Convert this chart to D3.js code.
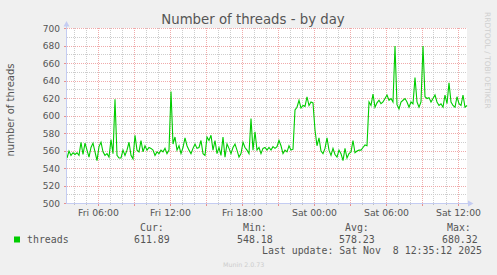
<!DOCTYPE html>
<html>
<head>
<meta charset="utf-8">
<title>Number of threads - by day</title>
<script src="https://cdn.jsdelivr.net/npm/d3@7"></script>
<style>
  body { margin: 0; background: #f0f0f0; }
  svg { display: block; }
  text { font-family: "DejaVu Sans", sans-serif; }
  .mono { font-family: "DejaVu Sans Mono", monospace; font-size: 9.9px; fill: #555; }
</style>
</head>
<body>
<svg id="chart" width="497" height="275"></svg>
<script>
// samples every 10 minutes
var startTime = "2025-11-07T03:25:00Z";
var stepMinutes = 10;
var threads = [
  552,560,555,558,556,558,555,570,556,569,561,553,564,569,559,549,565,570,559,555,557,553,573,557,619,555,552,552,561,555,561,570,555,551,
  578,561,559,572,559,566,561,564,563,561,555,559,557,561,559,563,557,561,628,568,576,561,566,557,564,575,566,561,557,563,568,563,564,572,
  557,555,576,572,578,561,572,557,564,555,576,553,568,563,557,564,568,561,553,557,570,564,561,557,597,561,582,561,564,557,563,564,561,
  564,561,565,563,565,572,566,557,561,559,566,561,562,607,610,618,609,612,611,622,612,616,615,584,566,575,560,557,563,575,561,555,563,556,
  553,561,557,549,563,552,557,559,572,558,560,561,561,564,567,566,616,612,625,610,615,618,614,616,620,624,618,620,616,680,613,608,616,
  618,620,616,610,616,614,644,616,610,616,680,622,620,621,616,620,624,616,612,614,610,624,614,638,616,612,610,622,614,612,624,610,612
];

var yTicks = [500, 520, 540, 560, 580, 600, 620, 640, 660, 680, 700];
var xTickTimes = ["2025-11-07T06:00:00Z", "2025-11-07T12:00:00Z", "2025-11-07T18:00:00Z",
                  "2025-11-08T00:00:00Z", "2025-11-08T06:00:00Z", "2025-11-08T12:00:00Z"];
var xTickLabels = ["Fri 06:00", "Fri 12:00", "Fri 18:00", "Sat 00:00", "Sat 06:00", "Sat 12:00"];

var legendHeads = ["Cur:", "Min:", "Avg:", "Max:"];
var legendValues = ["611.89", "548.18", "578.23", "680.32"];
var lastUpdate = "Last update: Sat Nov  8 12:35:12 2025";

var svg = d3.select("#chart");
var plotLeft = 67, plotRight = 467, plotTop = 28.5, plotBottom = 203.5;

var t0 = new Date(startTime);
var t1 = new Date(t0.getTime() + 400 * 5 * 60000);   // 400 px of 5 min
var x = d3.scaleUtc().domain([t0, t1]).range([plotLeft, plotRight]);
var y = d3.scaleLinear().domain([500, 700]).range([plotBottom, plotTop]);
var snap = function(v) { return Math.floor(v) + 0.5; };

svg.append("rect").attr("width", 497).attr("height", 275).attr("fill", "#f0f0f0");
svg.append("rect")
  .attr("x", plotLeft).attr("y", 28).attr("width", plotRight - plotLeft).attr("height", 176)
  .attr("fill", "#ffffff");

// grid
var minorY = d3.range(510, 700, 20);
var majorY = yTicks.filter(function(d) { return d > 500; });
var minorX = d3.utcHour.every(1).range(t0, t1).filter(function(d) { return d.getUTCHours() % 3 != 0; });
var majorX = d3.utcHour.every(3).range(t0, t1);

var grid = svg.append("g");
function hLines(vals, col) {
  grid.selectAll(null).data(vals).enter().append("line")
    .attr("x1", plotLeft).attr("x2", plotRight)
    .attr("y1", function(d) { return snap(y(d)); }).attr("y2", function(d) { return snap(y(d)); })
    .attr("stroke", col).attr("stroke-dasharray", "1,1");
}
function vLines(vals, col) {
  grid.selectAll(null).data(vals).enter().append("line")
    .attr("y1", 28).attr("y2", 204)
    .attr("x1", function(d) { return snap(x(d)); }).attr("x2", function(d) { return snap(x(d)); })
    .attr("stroke", col).attr("stroke-dasharray", "1,1");
}
hLines(minorY, "#cdcdcd");
vLines(minorX, "#cdcdcd");
hLines(majorY, "#f0aaaa");
vLines(majorX, "#f0aaaa");

// small tick marks outside the axes
grid.selectAll(null).data(majorX).enter().append("line")
  .attr("x1", function(d) { return snap(x(d)); }).attr("x2", function(d) { return snap(x(d)); })
  .attr("y1", 204).attr("y2", 206).attr("stroke", "#e89090");
grid.selectAll(null).data(minorX).enter().append("line")
  .attr("x1", function(d) { return snap(x(d)); }).attr("x2", function(d) { return snap(x(d)); })
  .attr("y1", 204).attr("y2", 205).attr("stroke", "#c0c0c0");
grid.selectAll(null).data(yTicks).enter().append("line")
  .attr("y1", function(d) { return snap(y(d)); }).attr("y2", function(d) { return snap(y(d)); })
  .attr("x1", 64).attr("x2", 66).attr("stroke", "#e89090");

// the line
var line = d3.line()
  .x(function(d, i) { return x(new Date(t0.getTime() + i * stepMinutes * 60000)); })
  .y(function(d) { return y(d); });
svg.append("path").datum(threads)
  .attr("d", line)
  .attr("fill", "none").attr("stroke", "#00cc00").attr("stroke-width", 1.1);

// axes with arrows
var axisCol = "#c4ccf2";
svg.append("line").attr("x1", 66.5).attr("x2", 66.5).attr("y1", 204).attr("y2", 24).attr("stroke", axisCol);
svg.append("line").attr("x1", 66).attr("x2", 470).attr("y1", 203.5).attr("y2", 203.5).attr("stroke", axisCol);
svg.append("path").attr("d", "M63.5,26.5L69.5,26.5L66.5,21Z").attr("fill", axisCol);
svg.append("path").attr("d", "M468,200.5L468,206.5L473.5,203.5Z").attr("fill", axisCol);

var yAxis = d3.axisLeft(y).tickValues(yTicks).tickSize(0).tickPadding(6).tickFormat(d3.format("d"));
svg.append("g").attr("transform", "translate(66,0)").call(yAxis)
  .call(function(g) { g.select(".domain").remove(); })
  .selectAll("text").attr("font-family", "DejaVu Sans").attr("font-size", 9).attr("fill", "#555");

var xAxis = d3.axisBottom(x).tickValues(xTickTimes.map(function(s) { return new Date(s); }))
  .tickSize(0).tickPadding(5.5).tickFormat(function(d, i) { return xTickLabels[i]; });
svg.append("g").attr("transform", "translate(0,204)").call(xAxis)
  .call(function(g) { g.select(".domain").remove(); })
  .selectAll("text").attr("font-family", "DejaVu Sans").attr("font-size", 9.3).attr("fill", "#555");

// titles
svg.append("text").attr("x", 253).attr("y", 24).attr("text-anchor", "middle")
  .attr("font-size", 13.3).attr("fill", "#555").text("Number of threads - by day");
svg.append("text").attr("transform", "translate(14,110) rotate(-90)").attr("text-anchor", "middle")
  .attr("font-size", 10).attr("fill", "#555").text("number of threads");
svg.append("text").attr("transform", "translate(485,12) rotate(90)")
  .attr("font-size", 7.5).attr("fill", "#cfcfcf").text("RRDTOOL / TOBI OETIKER");

// legend
svg.append("rect").attr("x", 14).attr("y", 236.5).attr("width", 6).attr("height", 6).attr("fill", "#00cc00");
svg.append("text").attr("class", "mono").attr("x", 27).attr("y", 242.5).text("threads");
var headX = [140, 243, 345, 447];
var valX = [134, 237, 339, 442];
legendHeads.forEach(function(h, i) {
  svg.append("text").attr("class", "mono").attr("x", headX[i]).attr("y", 231).text(h);
  svg.append("text").attr("class", "mono").attr("x", valX[i]).attr("y", 242.5).text(legendValues[i]);
});
svg.append("text").attr("class", "mono").attr("x", 262).attr("y", 254)
  .text(lastUpdate.replace(/ /g, "\u00a0"));
svg.append("text").attr("x", 223).attr("y", 267).attr("font-size", 6.3).attr("fill", "#cccccc")
  .text("Munin 2.0.73");
</script>
</body>
</html>
